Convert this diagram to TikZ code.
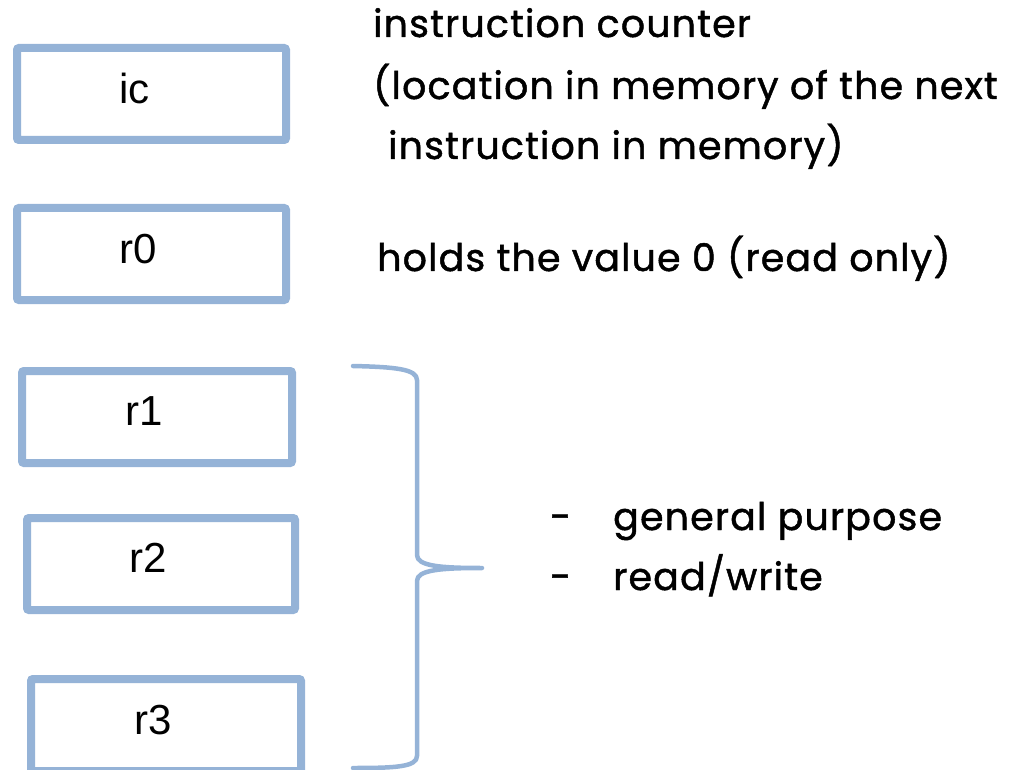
\documentclass[tikz,border=0pt]{standalone}
\usepackage{fontspec}
\setmainfont{Poppins}[LetterSpace=3,FakeBold=1.2]
\newfontfamily\boxfont{Liberation Sans}
\definecolor{regblue}{HTML}{95B3D7}
\begin{document}
\begin{tikzpicture}[x=1pt,y=-1pt,
  regbox/.style={draw=regblue,line width=8pt,rounded corners=2pt,fill=white},
  reglabel/.style={anchor=base west,inner sep=0pt,font=\boxfont\fontsize{42}{50}\selectfont},
  note/.style={anchor=base west,inner sep=0pt,font=\fontsize{38}{46}\selectfont},
  brace/.style={draw=regblue,line width=4.5pt,line cap=round,line join=round}]
\useasboundingbox (0,0) rectangle (1023,770);
\begin{scope}
\clip (0,0) rectangle (1023,770);
% register boxes
\draw[regbox] (17,48) rectangle (286,140);
\draw[regbox] (17,208) rectangle (286,300);
\draw[regbox] (22,371) rectangle (292,463);
\draw[regbox] (27,518) rectangle (295,610);
\draw[regbox] (31,679) rectangle (301,771);
% register names
\node[reglabel] (ic) at (119,104) {ic};
\node[reglabel] (r0) at (119,263) {r0};
\node[reglabel] (r1) at (125,425) {r1};
\node[reglabel] (r2) at (129,572) {r2};
\node[reglabel] (r3) at (134,734) {r3};
% brace grouping r1--r3
\coordinate (bt) at (353,366);
\coordinate (bm) at (482,568);
\coordinate (bb) at (353,768);
\draw[brace] (bt) .. controls (395,367) and (417,369) .. (417,380)
  -- (417,555) .. controls (417,566) and (440,568) .. (bm)
  .. controls (440,568) and (417,570) .. (417,581)
  -- (417,756) .. controls (417,767) and (395,768) .. (bb);
\end{scope}
% descriptions
\node[note] (d1) at (373,37) {instruction counter};
\node[note] (d2) at (373,99) {(location in memory of the next};
\node[note] (d3) at (388,159) {instruction in memory)};
\node[note] (d4) at (377,271) {holds the value 0 (read only)};
\node[note] (b1) at (550,530) {-};
\node[note] (g1) at (613,530) {general purpose};
\node[note] (b2) at (550,590) {-};
\node[note] (g2) at (613,590) {read/write};
\end{tikzpicture}
\end{document}
